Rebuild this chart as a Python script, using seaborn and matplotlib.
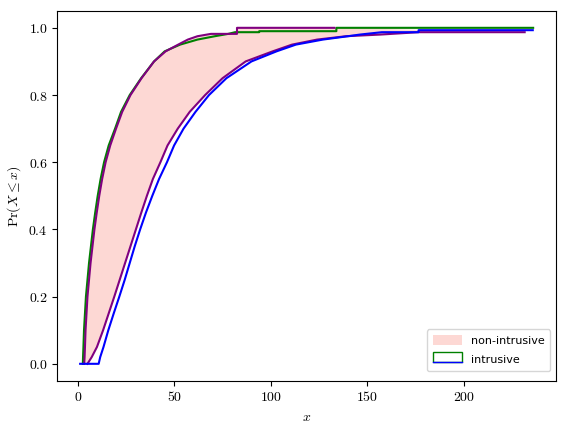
import matplotlib
matplotlib.use("Agg")
from matplotlib import pyplot as plt
from matplotlib.patches import Patch, Rectangle
from matplotlib.lines import Line2D
from matplotlib.ticker import FuncFormatter
import seaborn as sb

levels = [0.0, 0.02, 0.05, 0.1, 0.15, 0.2, 0.25, 0.3, 0.35, 0.4, 0.45, 0.5,
          0.55, 0.6, 0.65, 0.7, 0.75, 0.8, 0.85, 0.9, 0.93, 0.95, 0.965, 0.975]

# intrusive bounds
green_x = [2.6, 2.7, 2.9, 3.2, 3.7, 4.2, 5.0, 5.8, 6.8, 7.8, 9.0, 10.3,
           11.8, 13.6, 16.0, 19.3, 22.4, 26.9, 32.8, 39.5, 45.0, 53.0, 62.0, 71.0]
green_tail_x = [78.0, 81.5, 94.0, 94.0, 134.0, 134.0, 236.0]
green_tail_y = [0.982, 0.987, 0.987, 0.99, 0.99, 1.0, 1.0]

blue_head_x = [1.2]
blue_head_y = [0.0]
blue_x = [10.8, 11.6, 13.3, 15.8, 18.6, 21.5, 24.3, 26.9, 29.5, 32.3, 35.3, 38.6,
          42.1, 46.2, 49.9, 54.8, 61.0, 68.0, 77.0, 90.0, 103.0, 113.0, 127.0, 140.0]
blue_tail_x = [146.3, 157.6, 176.6, 176.6, 235.8]
blue_tail_y = [0.98, 0.987, 0.987, 0.993, 0.993]

# non-intrusive bounds
purple_lo_x = [3.3, 3.5, 3.7, 4.0, 4.5, 5.0, 5.8, 6.6, 7.6, 8.6, 9.8, 11.1,
               12.6, 14.4, 16.8, 19.8, 23.0, 27.3, 33.0, 39.5, 45.5, 52.0, 57.0, 62.0]
purple_lo_tail_x = [69.0, 82.5, 82.5, 133.0]
purple_lo_tail_y = [0.982, 0.982, 1.0, 1.0]

purple_hi_x = [5.0, 7.2, 9.9, 13.1, 16.0, 18.9, 21.7, 24.5, 27.3, 30.1, 32.9, 35.8,
               38.9, 42.8, 46.5, 51.8, 58.0, 66.0, 75.0, 87.0, 101.0, 111.0, 124.0, 139.0]
purple_hi_tail_x = [157.0, 176.6, 231.6]
purple_hi_tail_y = [0.98, 0.987, 0.987]

# full curves
gx = green_x + green_tail_x
gy = levels + green_tail_y
bx = blue_head_x + blue_x + blue_tail_x
by = blue_head_y + levels + blue_tail_y
plx = purple_lo_x + purple_lo_tail_x
ply = levels + purple_lo_tail_y
phx = purple_hi_x + purple_hi_tail_x
phy = levels + purple_hi_tail_y

plt.rcParams["mathtext.fontset"] = "cm"

fig = plt.figure(figsize=(5.62, 4.29), dpi=100)
ax = fig.add_axes([0.1023, 0.1128, 0.8867, 0.8615])

# shaded non-intrusive p-box
ax.fill(plx + phx[::-1], ply + phy[::-1], color="salmon", alpha=0.3, lw=0)

sb.lineplot(x=gx, y=gy, color="green", sort=False, estimator=None, ax=ax, lw=1.5)
sb.lineplot(x=plx, y=ply, color="purple", sort=False, estimator=None, ax=ax, lw=1.5)
sb.lineplot(x=phx, y=phy, color="purple", sort=False, estimator=None, ax=ax, lw=1.5)
sb.lineplot(x=bx, y=by, color="blue", sort=False, estimator=None, ax=ax, lw=1.5)

ax.set_xlabel("$x$")
ax.set_ylabel(r"$\Pr(X \leq x)$")
ax.xaxis.set_major_formatter(FuncFormatter(lambda v, p: "$%g$" % v))
ax.yaxis.set_major_formatter(FuncFormatter(lambda v, p: "$%.1f$" % v))
ax.set_yticks([0.0, 0.2, 0.4, 0.6, 0.8, 1.0])


class BoxHandler:
    # green outline with a blue bottom edge, as in the legend of the figure
    def legend_artist(self, legend, orig_handle, fontsize, handlebox):
        x0, y0 = handlebox.xdescent, handlebox.ydescent
        w, h = handlebox.width, handlebox.height
        tr = handlebox.get_transform()
        rect = Rectangle((x0, y0), w, h, fc="none", ec="green", lw=1, transform=tr)
        line = Line2D([x0, x0 + w], [y0, y0], color="blue", lw=1, transform=tr)
        handlebox.add_artist(rect)
        handlebox.add_artist(line)
        return rect


box_handle = Patch()
handles = [Patch(facecolor="salmon", alpha=0.3, lw=0), box_handle]
ax.legend(handles, ["non-intrusive", "intrusive"], loc="lower right",
          bbox_to_anchor=(0.988, 0.026), borderaxespad=0, borderpad=0.5,
          fontsize=8, handlelength=2.6, handleheight=1.0, labelspacing=0.8,
          handler_map={box_handle: BoxHandler()})

fig.savefig("out.png", dpi=100)
